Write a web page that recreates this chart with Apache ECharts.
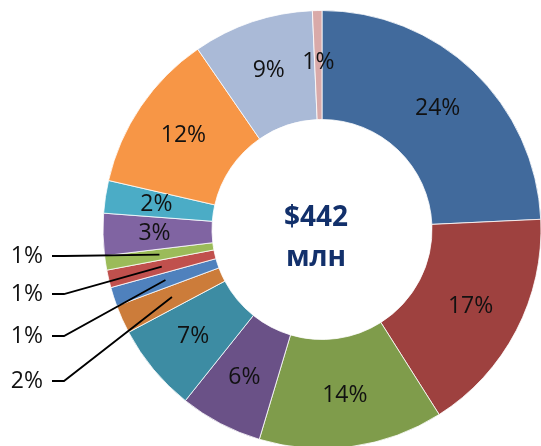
<!DOCTYPE html>
<html>
<head>
<meta charset="utf-8">
<script src="https://cdn.jsdelivr.net/npm/echarts@6/dist/echarts.min.js"></script>
<style>
  html, body { margin: 0; padding: 0; background: #fff; }
  #chart { width: 541px; height: 446px; }
</style>
</head>
<body>
<div id="chart"></div>
<script>
// shares of the total (percent), clockwise from 12 o'clock
const shares = [24.25, 16.75, 13.6, 6.1, 6.5, 2.1, 1.4, 1.3, 1.06, 3.1, 2.4, 11.8, 8.9, 0.7];
const sliceColors = [
  "#416A9C", "#9E413F", "#7F9C4B", "#6A5187", "#3D8CA3", "#CC7C3A", "#4F81BD",
  "#C0504D", "#9BBB59", "#8064A2", "#4BACC6", "#F79646", "#AABAD7", "#D9AAA9",
];
const totalText = "$442";
const unitText = "млн";
// thin slices labelled on the left with leader lines (top to bottom)
const calloutIdx = [8, 7, 6, 5];

const cx = 322, cy = 229.5, rIn = 110, rOut = 219;
const calloutY = [256, 294, 336, 381];
const total = shares.reduce((a, b) => a + b, 0);

const pct = (p) => Math.round((p.value / total) * 100) + "%";

const midPoint = (i) => {
  const before = shares.slice(0, i).reduce((a, b) => a + b, 0);
  const a = ((before + shares[i] / 2) / total) * Math.PI * 2;
  const r = (rIn + rOut) / 2;
  return [cx + r * Math.sin(a), cy - r * Math.cos(a)];
};

const labelFont = { color: "#111", fontFamily: "Open Sans", fontSize: 23 };

const chart = echarts.init(document.getElementById("chart"));

chart.setOption({
  animation: false,
  graphic: [{
    type: "text",
    x: 316,
    y: 238,
    z: 10,
    style: {
      text: totalText + "\n" + unitText,
      align: "center",
      verticalAlign: "middle",
      fill: "#12306B",
      font: "bold 28px 'Open Sans'",
      lineHeight: 40,
    },
  }],
  series: [
    {
      // the ring with inside labels
      type: "pie",
      z: 2,
      center: [cx, cy],
      radius: [rIn, rOut],
      startAngle: 90,
      clockwise: true,
      avoidLabelOverlap: false,
      silent: true,
      itemStyle: { borderColor: "#fff", borderWidth: 0.8 },
      label: {
        ...labelFont,
        position: "inside",
        formatter: (p) => (calloutIdx.includes(p.dataIndex) ? "" : pct(p)),
      },
      labelLine: { show: false },
      data: shares.map((v, i) => ({ value: v, itemStyle: { color: sliceColors[i] } })),
    },
    {
      // transparent copy on top, only for the leader-line labels
      type: "pie",
      z: 5,
      center: [cx, cy],
      radius: [rIn, rOut],
      startAngle: 90,
      clockwise: true,
      avoidLabelOverlap: false,
      silent: true,
      itemStyle: { color: "rgba(0,0,0,0)", borderWidth: 0 },
      label: { ...labelFont, show: false, position: "outside", formatter: pct },
      labelLine: {
        show: false,
        length: 10,
        length2: 10,
        lineStyle: { color: "#000", width: 1.8 },
      },
      labelLayout: (params) => {
        const k = calloutIdx.indexOf(params.dataIndex);
        if (k < 0) return {};
        const y = calloutY[k];
        return {
          x: 43,
          y: y,
          align: "right",
          verticalAlign: "middle",
          labelLinePoints: [[52, y], [64, y], midPoint(params.dataIndex)],
        };
      },
      data: shares.map((v, i) => {
        const on = calloutIdx.includes(i);
        return { value: v, label: { show: on }, labelLine: { show: on } };
      }),
    },
  ],
});
</script>
</body>
</html>
